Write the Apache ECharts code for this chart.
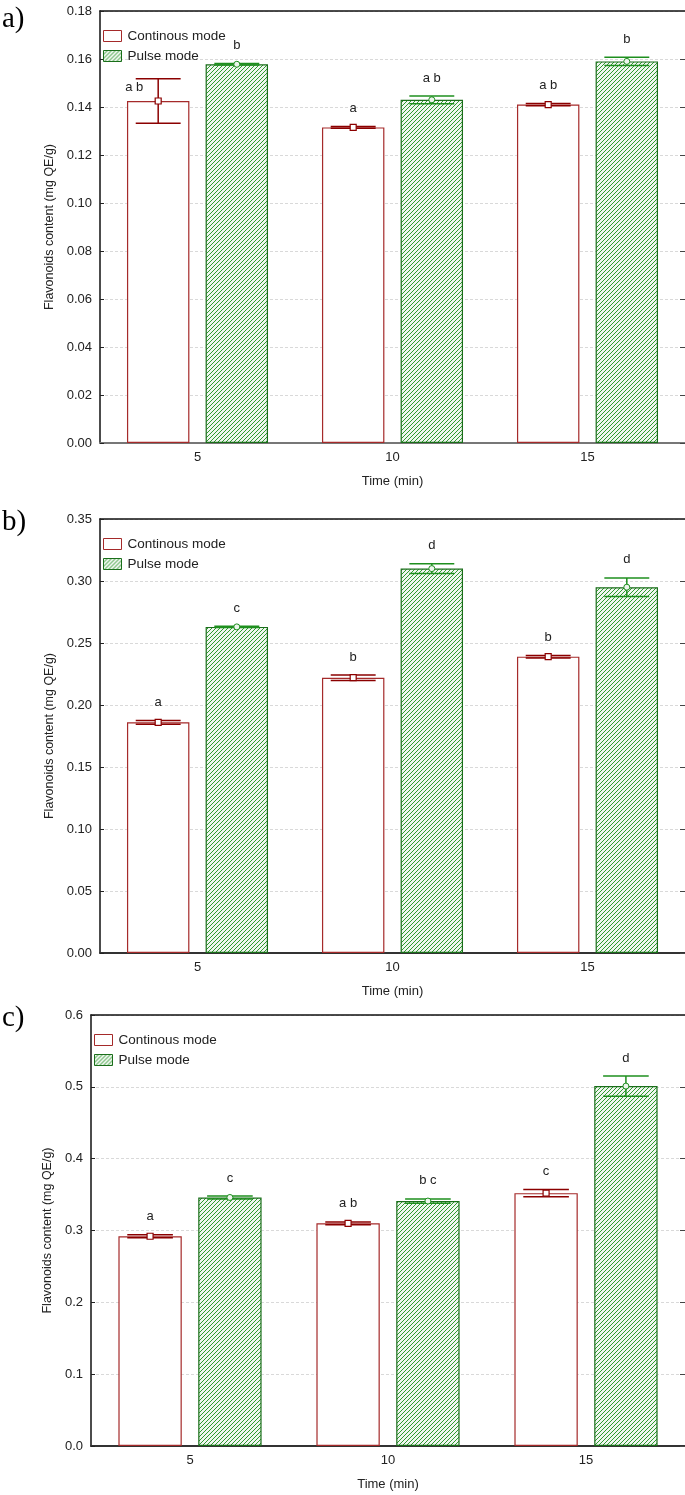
<!DOCTYPE html>
<html>
<head>
<meta charset="utf-8">
<script src="https://cdn.jsdelivr.net/npm/echarts@6/dist/echarts.min.js"></script>
<style>
html,body{margin:0;padding:0;background:#fff;}
#chart{width:685px;height:1495px;}
</style>
</head>
<body>
<div id="chart"></div>
<script>
// ---- data ----
const categories = ['5', '10', '15'];
const seriesNames = ['Continous mode', 'Pulse mode'];
const panelLabels = ['a)', 'b)', 'c)'];

// Panel a
const aContMean = [0.1425, 0.1315, 0.1410];
const aContErr  = [0.0093, 0.0004, 0.0005];
const aPulseMean = [0.1578, 0.1430, 0.1590];
const aPulseErr  = [0.0003, 0.0016, 0.0017];
const aContLetters = ['a b', 'a', 'a b'];
const aPulseLetters = ['b', 'a b', 'b'];
const aTicks = {min: 0, max: 0.18, interval: 0.02, digits: 2};

// Panel b
const bContMean = [0.186, 0.222, 0.239];
const bContErr  = [0.0015, 0.0022, 0.0010];
const bPulseMean = [0.263, 0.310, 0.295];
const bPulseErr  = [0.0005, 0.0040, 0.0075];
const bContLetters = ['a', 'b', 'b'];
const bPulseLetters = ['c', 'd', 'd'];
const bTicks = {min: 0, max: 0.35, interval: 0.05, digits: 2};

// Panel c
const cContMean = [0.292, 0.310, 0.352];
const cContErr  = [0.002, 0.002, 0.005];
const cPulseMean = [0.346, 0.341, 0.501];
const cPulseErr  = [0.002, 0.003, 0.014];
const cContLetters = ['a', 'a b', 'c'];
const cPulseLetters = ['c', 'b c', 'd'];
const cTicks = {min: 0, max: 0.6, interval: 0.1, digits: 1};

// ---- styles ----
const RED = '#8b0000';
const RED_BORDER = '#a52a2a';
const GREEN = '#1e8f1e';
const GREEN_BORDER = '#1a6e1a';
const FONT = '"Liberation Sans", Arial, sans-serif';
const FS = 13;

function makeHatch() {
  const c = document.createElement('canvas');
  c.width = 4; c.height = 4;
  const g = c.getContext('2d');
  g.fillStyle = '#f0f6f0';
  g.fillRect(0, 0, 4, 4);
  g.strokeStyle = '#2f9a2f';
  g.lineWidth = 1.0;
  g.beginPath();
  g.moveTo(-1, 5); g.lineTo(5, -1);
  g.moveTo(-1, 1); g.lineTo(1, -1);
  g.moveTo(3, 5); g.lineTo(5, 3);
  g.stroke();
  return c;
}
const hatch = {image: makeHatch(), repeat: 'repeat'};

const panels = [
  {cont: aContMean, contErr: aContErr, pulse: aPulseMean, pulseErr: aPulseErr,
   cl: aContLetters, pl: aPulseLetters, t: aTicks, left: 100, top: 11, height: 432, labelY: 22, nameGap: 42},
  {cont: bContMean, contErr: bContErr, pulse: bPulseMean, pulseErr: bPulseErr,
   cl: bContLetters, pl: bPulseLetters, t: bTicks, left: 100, top: 519, height: 434, labelY: 525, nameGap: 42},
  {cont: cContMean, contErr: cContErr, pulse: cPulseMean, pulseErr: cPulseErr,
   cl: cContLetters, pl: cPulseLetters, t: cTicks, left: 91, top: 1015, height: 431, labelY: 1021, nameGap: 35}
];

const BAR_W = 0.32, BAR_GAP = 0.26;

const grid = [], xAxis = [], yAxis = [], series = [], legend = [], graphic = [];

panels.forEach((p, i) => {
  grid.push({left: p.left, right: -2, top: p.top, height: p.height, containLabel: false});
  xAxis.push({
    type: 'category', gridIndex: i, data: categories, position: 'bottom',
    name: 'Time (min)', nameLocation: 'middle', nameGap: 32,
    nameTextStyle: {fontFamily: FONT, fontSize: FS, color: '#222'},
    axisLine: {onZero: false, lineStyle: {color: i === 0 ? '#777' : '#333', width: 2}},
    axisTick: {inside: true, alignWithLabel: true, length: 4, lineStyle: {color: '#222'}},
    axisLabel: {fontFamily: FONT, fontSize: FS, color: '#222', margin: 8},
    splitLine: {show: false}
  });
  yAxis.push({
    type: 'value', gridIndex: i, min: p.t.min, max: p.t.max, interval: p.t.interval,
    name: 'Flavonoids content (mg QE/g)', nameLocation: 'middle', nameGap: p.nameGap,
    nameTextStyle: {fontFamily: FONT, fontSize: 12.5, color: '#222'},
    axisLine: {show: true, onZero: false, lineStyle: {color: '#111', width: 1.5}},
    axisTick: {show: true, inside: true, length: 4, lineStyle: {color: '#222'}},
    axisLabel: {fontFamily: FONT, fontSize: FS, color: '#222', margin: 8,
      formatter: v => v.toFixed(p.t.digits)},
    splitLine: {show: true, lineStyle: {color: '#d9d9d9', type: [3, 2], width: 1}}
  });
  legend.push({
    orient: 'vertical', left: p.left + 3, top: p.top + 18, padding: 0,
    itemWidth: 18, itemHeight: 11, itemGap: 6,
    textStyle: {fontFamily: FONT, fontSize: 13.5, color: '#222', padding: [0, 0, 0, 1]},
    data: [
      {name: seriesNames[0], icon: 'rect', itemStyle: {color: '#fff', borderColor: RED_BORDER, borderWidth: 1}},
      {name: seriesNames[1], icon: 'rect', itemStyle: {color: hatch, borderColor: GREEN_BORDER, borderWidth: 1}}
    ],
    selectedMode: false
  });
  graphic.push({type: 'text', left: 2, top: p.labelY - 17,
    style: {text: panelLabels[i], font: '29px "Liberation Serif", "Times New Roman", serif', fill: '#000'}});
});
// top axes (frame line with inner ticks)
panels.forEach((p, i) => {
  xAxis.push({
    type: 'category', gridIndex: i, data: categories, position: 'top',
    axisLine: {onZero: false, lineStyle: {color: '#111', width: 1.5}},
    axisTick: {inside: true, alignWithLabel: true, length: 4, lineStyle: {color: '#222'}},
    axisLabel: {show: false}, splitLine: {show: false}
  });
});
// right axes (inner ticks only)
panels.forEach((p, i) => {
  yAxis.push({
    type: 'value', gridIndex: i, position: 'right', min: p.t.min, max: p.t.max, interval: p.t.interval,
    axisLine: {show: false, onZero: false, lineStyle: {width: 0, opacity: 0}},
    axisTick: {show: true, inside: true, length: 5, lineStyle: {color: '#444'}},
    axisLabel: {show: false}, splitLine: {show: false}
  });
});

panels.forEach((p, i) => {
  series.push({
    type: 'bar', name: seriesNames[0], xAxisIndex: i, yAxisIndex: i,
    data: p.cont, barWidth: (BAR_W * 100) + '%', barGap: (BAR_GAP * 100) + '%',
    itemStyle: {color: '#fff', borderColor: RED_BORDER, borderWidth: 1.2},
    emphasis: {disabled: true}, animation: false, z: 2
  });
  series.push({
    type: 'bar', name: seriesNames[1], xAxisIndex: i, yAxisIndex: i,
    data: p.pulse, barWidth: (BAR_W * 100) + '%', barGap: (BAR_GAP * 100) + '%',
    itemStyle: {color: hatch, borderColor: GREEN_BORDER, borderWidth: 1.2},
    emphasis: {disabled: true}, animation: false, z: 2
  });
  const groups = [
    {mean: p.cont, err: p.contErr, letters: p.cl, sign: -1, color: RED, marker: 'rect'},
    {mean: p.pulse, err: p.pulseErr, letters: p.pl, sign: 1, color: GREEN, marker: 'circle'}
  ];
  groups.forEach(gr => {
    series.push({
      type: 'custom', xAxisIndex: i, yAxisIndex: i, z: 5, animation: false, silent: true,
      data: gr.mean.map((m, k) => [k, m, gr.err[k], gr.letters[k]]),
      encode: {x: 0, y: 1},
      renderItem: (params, api) => {
        const k = api.value(0), m = api.value(1), e = api.value(2);
        const bw = api.size([1, 0])[0];
        const w = bw * BAR_W;
        const off = gr.sign * w * (1 + BAR_GAP) / 2;
        const c = api.coord([k, m]);
        const x = c[0] + off;
        const yTop = api.coord([k, m + e])[1];
        const yBot = api.coord([k, m - e])[1];
        const yM = c[1];
        const cap = w * 0.36;
        const ls = {stroke: gr.color, lineWidth: 1.5, fill: null};
        const children = [
          {type: 'line', shape: {x1: x, y1: yTop, x2: x, y2: yBot}, style: ls},
          {type: 'line', shape: {x1: x - cap, y1: yTop, x2: x + cap, y2: yTop}, style: ls},
          {type: 'line', shape: {x1: x - cap, y1: yBot, x2: x + cap, y2: yBot}, style: ls}
        ];
        if (gr.marker === 'rect') {
          children.push({type: 'rect', shape: {x: x - 3, y: yM - 3, width: 6, height: 6},
            style: {stroke: gr.color, lineWidth: 1.2, fill: '#fff'}});
        } else {
          children.push({type: 'circle', shape: {cx: x, cy: yM, r: 3},
            style: {stroke: gr.color, lineWidth: 1, fill: '#eef5ee'}});
        }
        // letter: above the cap, or beside the whisker when the whisker is tall
        const tall = (yBot - yTop) > 30;
        const lx = tall ? x - 24 : x;
        const ly = tall ? yM - 14 : yTop - 18;
        children.push({type: 'text', x: lx, y: ly,
          style: {text: api.value(3), fill: '#222', font: FS + 'px ' + FONT, align: 'center', verticalAlign: 'middle'}});
        return {type: 'group', children: children};
      }
    });
  });
});

const chart = echarts.init(document.getElementById('chart'), null, {renderer: 'canvas'});
chart.setOption({
  backgroundColor: '#fff',
  animation: false,
  grid, xAxis, yAxis, series, legend, graphic
});
</script>
</body>
</html>
